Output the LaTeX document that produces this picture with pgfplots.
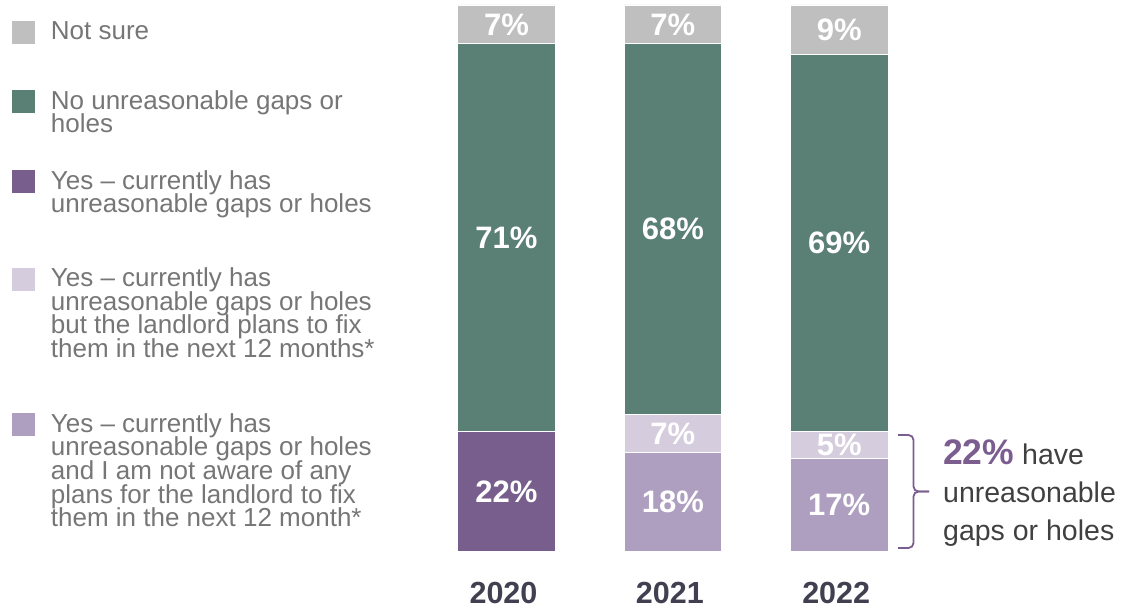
\documentclass[border=0pt]{standalone}
\usepackage{pgfplots}
\pgfplotsset{compat=1.18}
\usepackage{fontspec}
\setmainfont{Liberation Sans}

\definecolor{notsure}{RGB}{191,191,191}
\definecolor{nogaps}{RGB}{90,127,117}
\definecolor{yesdark}{RGB}{119,94,140}
\definecolor{yesplan}{RGB}{213,204,222}
\definecolor{yesnoplan}{RGB}{174,159,192}
\definecolor{legtext}{RGB}{118,118,118}
\definecolor{yeartext}{RGB}{64,64,80}
\definecolor{notetext}{RGB}{64,64,64}
\definecolor{bracecol}{RGB}{123,94,143}

\tikzset{
  vlab/.style={font=\fontsize{31}{31}\selectfont\bfseries, text=white,
    inner sep=0pt, text height=22.2pt, text depth=0pt, anchor=center},
  leg/.style={anchor=base west, inner sep=0pt, text=legtext,
    font=\fontsize{26}{26}\selectfont},
  note/.style={anchor=base west, inner sep=0pt, text=notetext,
    font=\fontsize{28.5}{28.5}\selectfont},
}

\begin{document}
\begin{tikzpicture}
\begin{axis}[
    name=ax,
    scale only axis, width=499.05pt, height=546pt,
    xmin=-0.5, xmax=2.5, ymin=0, ymax=100,
    ybar stacked, bar width=97.6pt,
    reverse stacked plots=false,
    axis line style={draw=none}, tick style={draw=none},
    ytick=\empty, xtick={0,1,2}, xticklabels={2020,2021,2022},
    xticklabel style={font=\fontsize{30.5}{30.5}\selectfont\bfseries, text=yeartext,
        anchor=base, yshift=-52pt, xshift=-3pt, inner sep=0pt},
    clip=false,
]
% bottom to top: yes (2020 wording), yes no plans, yes with plans, no gaps, not sure
\addplot[fill=yesdark, draw=white, line width=0.75pt]
    coordinates {(0,22) (1,0) (2,0)};
\addplot[fill=yesnoplan, draw=white, line width=0.75pt]
    coordinates {(0,0) (1,18) (2,17)};
\addplot[fill=yesplan, draw=white, line width=0.75pt]
    coordinates {(0,0) (1,7) (2,5)};
\addplot[fill=nogaps, draw=white, line width=0.75pt]
    coordinates {(0,71) (1,68) (2,69)};
\addplot[fill=notsure, draw=white, line width=0.75pt]
    coordinates {(0,7) (1,7) (2,9)};

% value labels, centred in each segment
\node[vlab] at (axis cs:0,11) {22\%};
\node[vlab] at (axis cs:0,57.5) {71\%};
\node[vlab] at (axis cs:0,96.5) {7\%};
\node[vlab] at (axis cs:1,9) {18\%};
\node[vlab] at (axis cs:1,21.5) {7\%};
\node[vlab] at (axis cs:1,59) {68\%};
\node[vlab] at (axis cs:1,96.5) {7\%};
\node[vlab] at (axis cs:2,8.5) {17\%};
\node[vlab] at (axis cs:2,19.5) {5\%};
\node[vlab] at (axis cs:2,56.5) {69\%};
\node[vlab] at (axis cs:2,95.5) {9\%};
\end{axis}

% legend and note, in picture pixels (y down)
\begin{scope}[x=1pt, y=-1pt, shift={(ax.south west)}, shift={(-423.3,-551)}]
\path (0,0) rectangle (1124,608);

% legend swatches
\fill[notsure]   (12,21)    rectangle (35,43.7);
\fill[nogaps]    (12,90.5)  rectangle (35,113.2);
\fill[yesdark]   (12,170.5) rectangle (35,193.2);
\fill[yesplan]   (12,268)   rectangle (35,290.7);
\fill[yesnoplan] (12,413.5) rectangle (35,436.2);

\node[leg] at (50.7,40) {Not sure};
\node[leg] at (50.7,109.5) {No unreasonable gaps or};
\node[leg] at (50.7,133) {holes};
\node[leg] at (50.7,189.5) {Yes – currently has};
\node[leg] at (50.7,213) {unreasonable gaps or holes};
\node[leg] at (50.7,287) {Yes – currently has};
\node[leg] at (50.7,310.5) {unreasonable gaps or holes};
\node[leg] at (50.7,334) {but the landlord plans to fix};
\node[leg] at (50.7,357.5) {them in the next 12 months*};
\node[leg] at (50.7,432.5) {Yes – currently has};
\node[leg] at (50.7,456) {unreasonable gaps or holes};
\node[leg] at (50.7,479.5) {and I am not aware of any};
\node[leg] at (50.7,503) {plans for the landlord to fix};
\node[leg] at (50.7,526.5) {them in the next 12 month*};

% brace and note
\draw[bracecol, line width=1.8pt, rounded corners=5pt]
    (898,435) -- (913.5,435) -- (913.5,491.5) -- (929,491.5);
\draw[bracecol, line width=1.8pt, rounded corners=5pt]
    (898,548) -- (913.5,548) -- (913.5,491.5) -- (929,491.5);
\node[note] at (943,464.3) {{\color{bracecol}\fontsize{35.5}{35.5}\selectfont\bfseries 22\%} have};
\node[note] at (943,502.3) {unreasonable};
\node[note] at (943,540) {gaps or holes};
\end{scope}
\end{tikzpicture}
\end{document}
